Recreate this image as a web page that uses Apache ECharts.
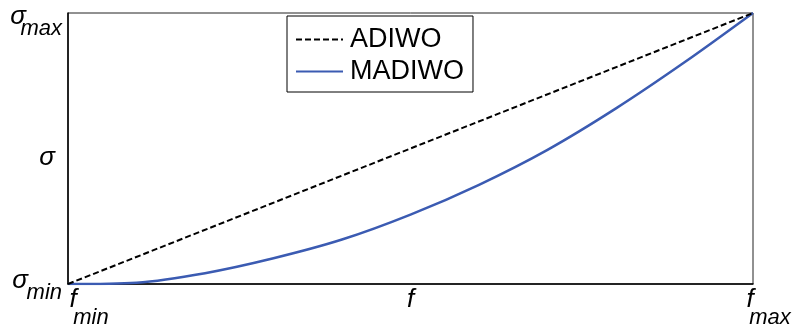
<!DOCTYPE html>
<html>
<head>
<meta charset="utf-8">
<script src="https://cdn.jsdelivr.net/npm/echarts@6/dist/echarts.min.js"></script>
<style>
  html, body { margin: 0; padding: 0; background: #fff; }
  #chart { width: 793px; height: 329px; }
</style>
</head>
<body>
<div id="chart"></div>
<script>
// Normalised frequency f (0 = f_min, 1 = f_max)
const freq = [0, 0.1, 0.2, 0.3, 0.4, 0.5, 0.6, 0.7, 0.8, 0.9, 1];
// Normalised sigma for MADIWO (0 = sigma_min, 1 = sigma_max)
const madiwo = [0, 0.005, 0.040, 0.095, 0.164, 0.256, 0.366, 0.495, 0.648, 0.818, 1];
// ADIWO: straight line between the two end points
const adiwoFreq = [0, 1];
const adiwo = [0, 1];

// Tick labels: [main symbol, subscript]
const xTicks = { 0: ['f', 'min'], 0.5: ['f', ''], 1: ['f', 'max'] };
const yTicks = { 0: ['σ', 'min'], 0.5: ['σ', ''], 1: ['σ', 'max'] };

const FONT = '"Liberation Sans", Arial, sans-serif';

const chart = echarts.init(document.getElementById('chart'), null, { renderer: 'canvas' });

// x labels: symbol on the first line, subscript pushed right on the second line
function xLabel(v) {
  const t = xTicks[v];
  if (!t) return '';
  if (!t[1]) return '{xm|' + t[0] + '}\n{xs| }';
  if (v === 0) return '{sp10| }{xm|' + t[0] + '}\n{sp46| }{xs|' + t[1] + '}';
  return '{xm|' + t[0] + '}{sp6| }\n{sp34| }{xs|' + t[1] + '}';
}
// y labels: symbol above, subscript below and to the right (right aligned block)
function yLabel(v) {
  const t = yTicks[v];
  if (!t) return '';
  if (v === 1) return '{gap20| }\n{ym|' + t[0] + '}{sp36| }\n{ys|' + t[1] + '}';
  if (v === 0) return '{gap6| }\n{ym|' + t[0] + '}{sp34| }\n{ys|' + t[1] + '}';
  return '{gap18| }\n{ym|' + t[0] + '}{sp7| }';
}

const ital = { fontFamily: FONT, fontStyle: 'italic', color: '#000' };
const rich = {
  xm: Object.assign({}, ital, { fontSize: 26, lineHeight: 24 }),
  xs: Object.assign({}, ital, { fontSize: 22, lineHeight: 12 }),
  ym: Object.assign({}, ital, { fontSize: 26, lineHeight: 12 }),
  ys: Object.assign({}, ital, { fontSize: 22, lineHeight: 12 }),
  gap6: { fontSize: 4, lineHeight: 6 },
  gap18: { fontSize: 10, lineHeight: 18 },
  gap20: { fontSize: 10, lineHeight: 20 },
  sp6: { fontSize: 10, width: 6, lineHeight: 12 },
  sp7: { fontSize: 10, width: 7, lineHeight: 12 },
  sp10: { fontSize: 10, width: 10, lineHeight: 12 },
  sp34: { fontSize: 10, width: 34, lineHeight: 12 },
  sp36: { fontSize: 10, width: 36, lineHeight: 12 },
  sp46: { fontSize: 10, width: 46, lineHeight: 12 }
};

chart.setOption({
  animation: false,
  backgroundColor: '#fff',
  grid: {
    left: 68, right: 40, top: 13, bottom: 45,
    outerBoundsMode: 'none',
    containLabel: false,
    show: true, borderColor: '#222', borderWidth: 1
  },
  legend: {
    orient: 'vertical',
    left: 287, top: 16,
    padding: [10, 9, 7, 8],
    itemGap: 5,
    itemWidth: 47,
    itemHeight: 14,
    borderColor: '#000',
    borderWidth: 1,
    itemStyle: { opacity: 0 },
    textStyle: { fontFamily: FONT, fontSize: 27, lineHeight: 24, color: '#000', padding: [0, 0, 0, 2] },
    data: ['ADIWO', 'MADIWO']
  },
  xAxis: {
    type: 'value', min: 0, max: 1, interval: 0.5,
    axisLine: { show: true, lineStyle: { color: '#000', width: 1.5 } },
    axisTick: { show: false },
    splitLine: { show: false },
    axisLabel: { margin: 4, formatter: xLabel, rich: rich }
  },
  yAxis: {
    type: 'value', min: 0, max: 1, interval: 0.5,
    axisLine: { show: true, lineStyle: { color: '#000', width: 1.5 } },
    axisTick: { show: false },
    splitLine: { show: false },
    axisLabel: { margin: 6, formatter: yLabel, rich: rich }
  },
  series: [
    {
      name: 'ADIWO',
      type: 'line',
      data: adiwoFreq.map((f, i) => [f, adiwo[i]]),
      symbol: 'none',
      lineStyle: { color: '#000', width: 2, type: [6, 3] },
      itemStyle: { color: '#000' },
      z: 3
    },
    {
      name: 'MADIWO',
      type: 'line',
      data: freq.map((f, i) => [f, madiwo[i]]),
      symbol: 'none',
      smooth: 0.3,
      lineStyle: { color: '#3b5bb2', width: 2.5 },
      itemStyle: { color: '#3b5bb2' },
      z: 2
    }
  ]
});
</script>
</body>
</html>
